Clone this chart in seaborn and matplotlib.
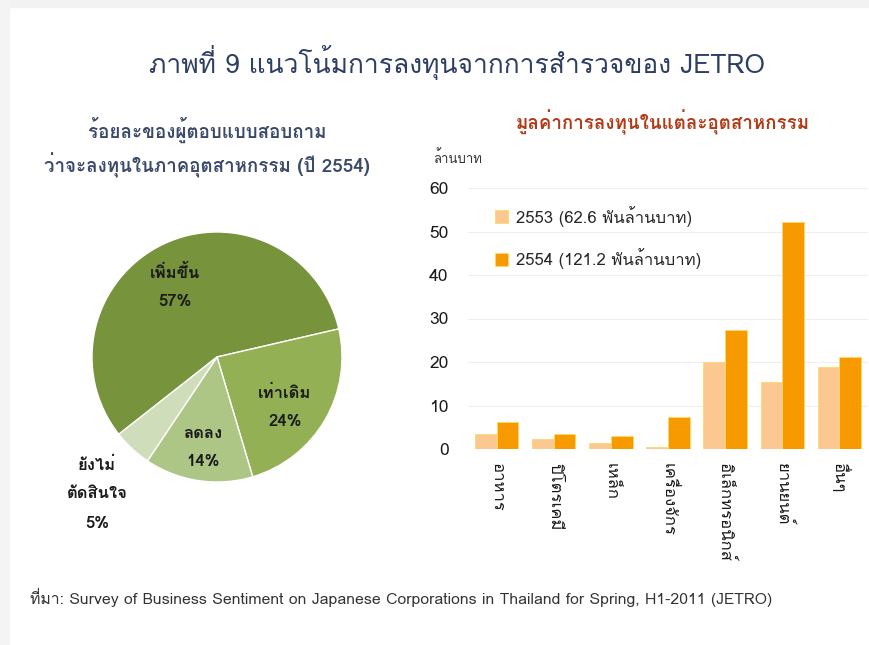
import numpy as np
import pandas as pd
import matplotlib
matplotlib.use('Agg')
import matplotlib.pyplot as plt
import seaborn as sns
from matplotlib.patches import Rectangle

# pie data
pie_labels = ['เพิ่มขึ้น', 'เท่าเดิม', 'ลดลง', 'ยังไม่\nตัดสินใจ']
pie_values = [57, 24, 14, 5]
pie_colors = ['#77933C', '#93B154', '#ADC585', '#D0DDBB']

# bar data (ล้านบาท)
industries = ['อาหาร', 'ปิโตรเคมี', 'เหล็ก', 'เครื่องจักร', 'อิเล็กทรอนิกส์', 'ยานยนต์', 'อื่นๆ']
val_2553 = [3.5, 2.3, 1.4, 0.5, 20.1, 15.3, 18.8]
val_2554 = [6.1, 3.4, 2.9, 7.4, 27.3, 52.1, 21.1]
series_names = ['2553 (62.6 พันล้านบาท)', '2554 (121.2 พันล้านบาท)']
bar_colors = ['#FCC892', '#F79A00']

sns.set_theme(style='white')
# Loma has Thai glyphs with stacked marks, looks like Tahoma
plt.rcParams['font.family'] = ['Loma', 'DejaVu Sans']

W, H = 869, 645
fig = plt.figure(figsize=(W / 100, H / 100), dpi=100)

def px(x, y):
    return x / W, 1 - y / H

# light grey frame at top and left, like the slide screenshot
fig.patches.append(Rectangle((0, 1 - 7 / H), 1, 7 / H, transform=fig.transFigure, color='#F2F2F2', zorder=0))
fig.patches.append(Rectangle((0, 0), 9 / W, 1, transform=fig.transFigure, color='#F4F4F4', zorder=0))

fig.text(*px(457, 62), 'ภาพที่ 9 แนวโน้มการลงทุนจากการสำรวจของ JETRO', ha='center', va='center',
         fontsize=19, color='#2E3F63')
fig.text(*px(207, 130), 'ร้อยละของผู้ตอบแบบสอบถาม', ha='center', va='center',
         fontsize=13.5, fontweight='bold', color='#3B4A6B')
fig.text(*px(207, 165), 'ว่าจะลงทุนในภาคอุตสาหกรรม (ปี 2554)', ha='center', va='center',
         fontsize=13.5, fontweight='bold', color='#3B4A6B')
fig.text(*px(663, 122), 'มูลค่าการลงทุนในแต่ละอุตสาหกรรม', ha='center', va='center',
         fontsize=13.5, fontweight='bold', color='#B23A17')
fig.text(*px(433, 158), 'ล้านบาท', ha='left', va='center', fontsize=9.5, color='#333333')
fig.text(*px(30, 597), 'ที่มา: Survey of Business Sentiment on Japanese Corporations in Thailand for Spring, H1-2011 (JETRO)',
         ha='left', va='center', fontsize=11.4, color='#333333')

# pie
ax1 = fig.add_axes([(217 - 125) / W, 1 - (357 + 125) / H, 250 / W, 250 / H])
ax1.pie(pie_values, colors=pie_colors, startangle=13 + 360 * pie_values[0] / 100, counterclock=False,
        wedgeprops=dict(edgecolor='white', linewidth=1))
ax1.set_xlim(-1, 1)
ax1.set_ylim(-1, 1)
label_pos = [(175, 272), (285, 393), (203, 433), (97, 465)]
for (x, y), lab, v in zip(label_pos, pie_labels, pie_values):
    lines = lab.split('\n')
    for i, line in enumerate(lines):
        fig.text(*px(x, y + 29 * i), line, ha='center', va='center', fontsize=12, fontweight='bold', color='#1a1a1a')
    fig.text(*px(x, y + 29 * len(lines)), f'{v}%', ha='center', va='center', fontsize=12, fontweight='bold', color='#1a1a1a')

# bars
df = pd.DataFrame({
    'industry': industries * 2,
    'value': val_2553 + val_2554,
    'year': [series_names[0]] * len(industries) + [series_names[1]] * len(industries),
})
ax2 = fig.add_axes([468 / W, 1 - 449 / H, 400 / W, (449 - 188) / H])
sns.barplot(data=df, x='industry', y='value', hue='year', palette=bar_colors, width=0.76, saturation=1,
            edgecolor='#FFD966', linewidth=0.6, ax=ax2)
ax2.set_ylim(0, 60)
ax2.set_xlim(-0.5, len(industries) - 0.5)
ax2.set_yticks(range(0, 61, 10))
ax2.yaxis.grid(True, color='#EFEFEF', linewidth=0.8)
ax2.set_axisbelow(True)
for s in ax2.spines.values():
    s.set_visible(False)
ax2.set_xlabel('')
ax2.set_ylabel('')
ax2.tick_params(axis='y', labelsize=12.5, colors='#1a1a1a', pad=14, length=0)
ax2.set_xticks(range(len(industries)))
ax2.set_xticklabels(industries, rotation=270, fontsize=12, va='top', ha='center', color='#1a1a1a')
ax2.tick_params(axis='x', length=0, pad=10)
# category separator marks
ax2.set_xticks(np.arange(-0.5, len(industries), 1), minor=True)
ax2.tick_params(axis='x', which='minor', length=6, color='#BFBFBF', width=1.2, direction='out')
ax2.legend(loc='upper left', bbox_to_anchor=(0.03, 0.99), frameon=False, fontsize=12,
           handlelength=0.8, handleheight=0.8, handletextpad=0.45, labelspacing=1.3)

fig.savefig('out.png', dpi=100, facecolor='white')
